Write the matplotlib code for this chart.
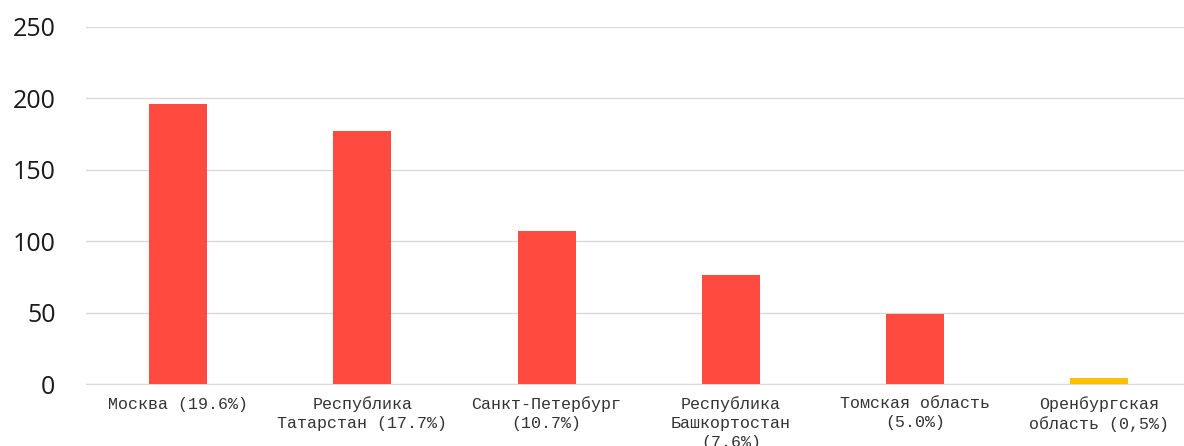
import matplotlib
matplotlib.use("Agg")
import matplotlib.pyplot as plt
import numpy as np

# regions, publication counts
REGIONS = [
    "Москва (19.6%)",
    "Республика\nТатарстан (17.7%)",
    "Санкт-Петербург\n(10.7%)",
    "Республика\nБашкортостан\n(7.6%)",
    "Томская область\n(5.0%)",
    "Оренбургская\nобласть (0,5%)",
]
VALUES = [196, 177, 107, 76, 49, 4]
COLORS = ["#ff4a40", "#ff4a40", "#ff4a40", "#ff4a40", "#ff4a40", "#ffc000"]
YTICKS = [0, 50, 100, 150, 200, 250]

fig = plt.figure(figsize=(11.84, 4.46), dpi=100)
ax = fig.add_axes([86 / 1184, 1 - 384 / 446, 1 - 86 / 1184, (384 - 27) / 446])

x = np.arange(len(REGIONS))
ax.bar(x, VALUES, width=0.315, color=COLORS, zorder=3)

ax.set_xlim(-0.5, 5.46)
ax.set_ylim(0, 250)
ax.set_yticks(YTICKS)
ax.set_yticklabels([str(t) for t in YTICKS], fontsize=18,
                   family="Open Sans", color="#1a1a1a")
ax.set_xticks(x)
ax.set_xticklabels(REGIONS, fontsize=12, family="Liberation Mono",
                   color="#333333", linespacing=1.3)
ax.tick_params(axis="x", length=0, pad=9)
ax.tick_params(axis="y", length=0, pad=22)

ax.yaxis.grid(True, color="#d9d9d9", linewidth=1.0, zorder=0)
ax.set_axisbelow(True)
for s in ["top", "right", "left"]:
    ax.spines[s].set_visible(False)
ax.spines["bottom"].set_color("#d9d9d9")

fig.savefig("out.png", dpi=100, facecolor="white")
